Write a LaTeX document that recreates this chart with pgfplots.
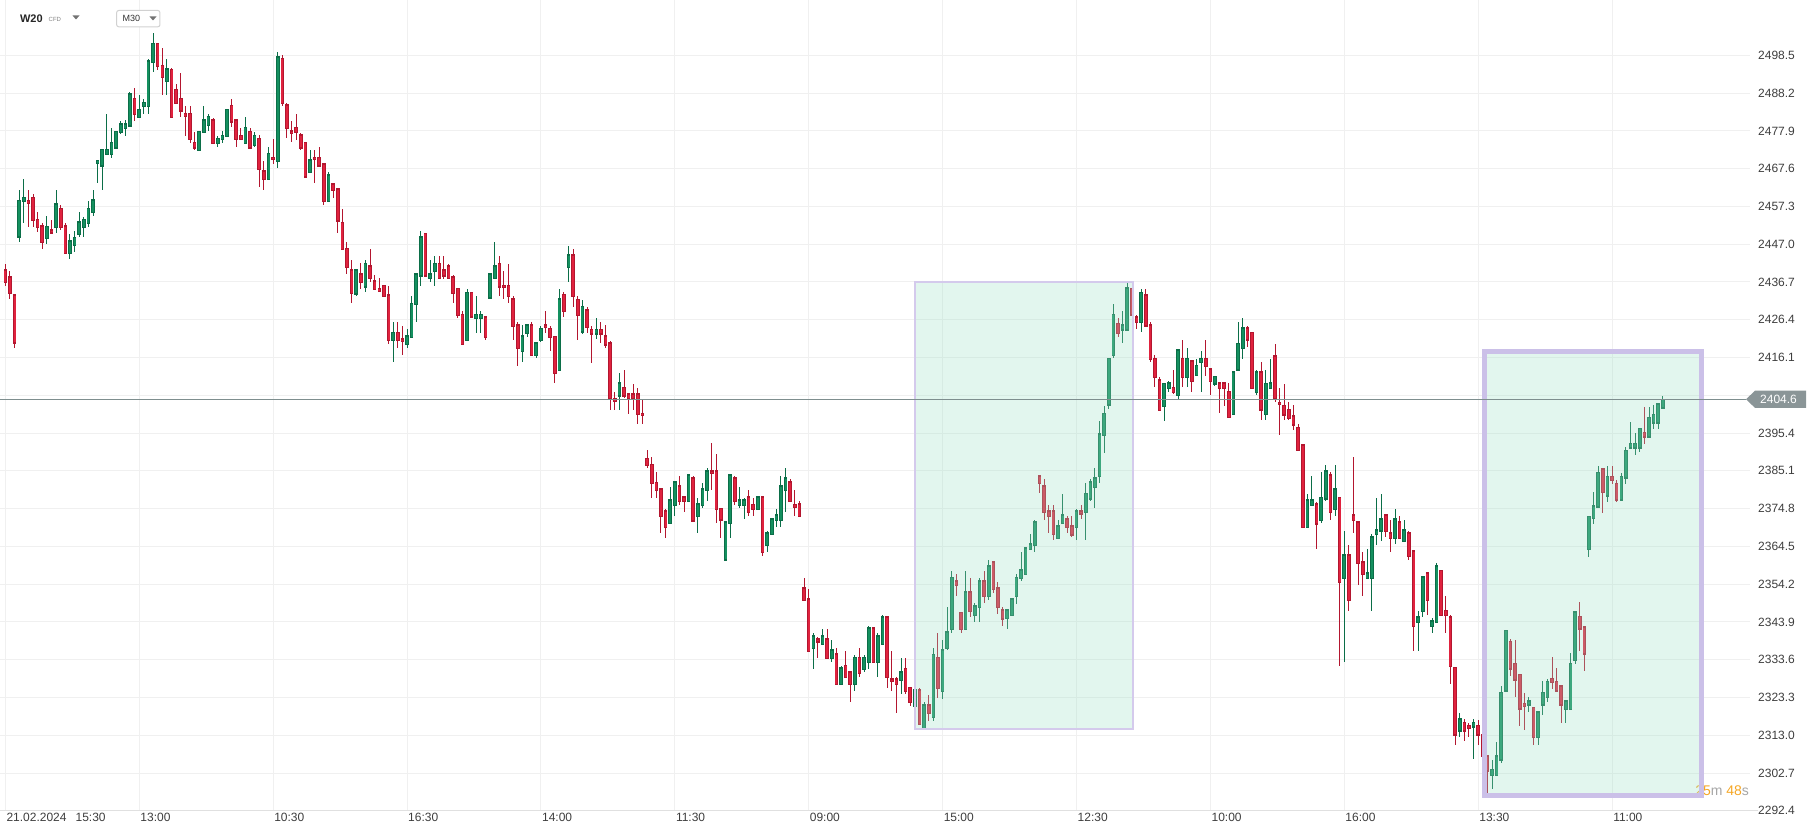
\documentclass[border=0pt]{standalone}
\usepackage{fontspec}
\setmainfont{Liberation Sans}
\usepackage{pgfplots}
\usepackage{pgfplotstable}
\pgfplotsset{compat=1.18}
\definecolor{gfill}{HTML}{14905F}
\definecolor{gline}{HTML}{0B6E48}
\definecolor{rfill}{HTML}{E0223E}
\definecolor{rline}{HTML}{B3162F}
\definecolor{boxfill}{RGB}{158,225,198}
\definecolor{boxa}{RGB}{212,202,236}
\definecolor{boxb}{RGB}{203,192,232}
\definecolor{pline}{HTML}{7E8E8E}
\definecolor{ptag}{HTML}{8A9597}
\definecolor{lbl}{HTML}{3D3D3D}
\definecolor{gridc}{HTML}{F0F0F0}
\definecolor{orng}{HTML}{F5A623}

\pgfplotstableread{
i o h l c
3 2448.9 2461.7 2447.6 2458.9
4 2458.5 2464.7 2452.8 2459.7
9 2448.4 2454.6 2446.9 2451.7
11 2451.5 2461.7 2449.9 2457.9
14 2444.4 2449.7 2442.8 2447.8
15 2446.5 2450.5 2444.7 2448.8
16 2449.6 2455.6 2448.8 2452.9
17 2451.4 2454.4 2448.8 2453.7
18 2452.6 2458.7 2451.5 2456.7
19 2455.5 2461.7 2454.6 2458.9
20 2468.9 2469.8 2463.7 2469.8
21 2468.3 2472.8 2461.7 2472.8
22 2471.3 2482.4 2471.2 2472.8
23 2471.4 2478.7 2470.3 2474.7
24 2473.2 2477.7 2472.8 2477.7
25 2477.4 2480.6 2477.1 2479.7
26 2478.5 2480.8 2476.5 2479.7
27 2479.2 2488.5 2478.9 2487.9
29 2481.5 2487.6 2481.5 2483.7
30 2484.4 2486.5 2482.4 2485.6
31 2484.4 2497.3 2482.4 2496.9
32 2496.5 2504.6 2493.8 2501.7
35 2491.3 2497.3 2487.6 2494.7
42 2472.5 2477.7 2472.5 2477.7
43 2477.4 2484.6 2477.4 2480.8
44 2479.3 2482.4 2477.8 2481.8
46 2474.4 2476.4 2473.5 2475.8
47 2475.4 2477.8 2474.4 2476.6
48 2476.3 2483.7 2476.2 2483.7
52 2474.4 2481.5 2474.4 2478.8
54 2473.8 2477.4 2473.5 2476.6
57 2464.6 2473.3 2464.6 2471.7
59 2469.4 2499.3 2467.6 2498.0
66 2466.4 2472.6 2466.4 2469.9
70 2458.5 2466.5 2458.5 2465.8
76 2433.3 2439.9 2432.9 2439.9
78 2435.3 2442.6 2433.8 2441.7
84 2420.6 2425.6 2414.9 2422.9
87 2419.6 2423.7 2418.7 2421.9
88 2421.5 2432.8 2421.5 2430.8
89 2430.5 2438.8 2425.8 2438.8
90 2438.3 2450.5 2435.6 2448.9
92 2437.5 2442.6 2436.5 2438.8
93 2439.4 2443.8 2435.6 2441.7
100 2420.6 2434.7 2420.6 2433.8
102 2426.6 2432.8 2422.8 2427.8
103 2426.6 2428.7 2422.8 2427.8
105 2432.2 2438.8 2432.2 2438.8
106 2437.6 2447.4 2437.6 2441.0
112 2417.6 2424.9 2414.9 2421.9
113 2422.6 2424.9 2421.7 2424.9
115 2416.5 2419.9 2415.8 2419.9
116 2420.6 2424.6 2420.3 2424.0
120 2412.4 2434.7 2412.2 2431.9
122 2440.6 2446.5 2436.7 2444.0
125 2423.0 2431.7 2422.5 2429.9
128 2422.4 2426.7 2421.0 2423.7
133 2405.5 2411.9 2401.7 2409.1
144 2370.8 2380.8 2370.8 2377.1
145 2375.6 2382.0 2372.9 2382.0
148 2376.7 2384.0 2376.7 2384.0
150 2372.6 2377.8 2368.1 2376.0
151 2375.6 2381.7 2374.9 2380.2
152 2379.7 2385.8 2377.0 2385.1
156 2360.8 2371.1 2360.8 2371.1
157 2370.8 2384.0 2366.9 2384.0
159 2375.6 2380.8 2374.9 2377.1
160 2375.6 2377.8 2371.9 2377.1
163 2374.6 2378.0 2374.6 2378.0
165 2364.7 2368.7 2363.1 2368.1
166 2367.8 2372.0 2367.8 2372.0
167 2371.5 2374.7 2369.9 2373.1
168 2371.5 2383.7 2369.9 2381.0
169 2379.7 2385.8 2374.0 2383.1
175 2336.7 2340.8 2331.0 2340.1
177 2337.8 2342.0 2337.8 2340.1
179 2334.0 2339.0 2333.1 2336.2
181 2326.9 2331.9 2326.9 2331.4
184 2326.9 2334.9 2325.2 2334.2
186 2331.0 2334.9 2330.2 2334.2
187 2332.9 2342.9 2331.0 2342.3
189 2332.9 2340.8 2329.0 2340.1
190 2337.8 2345.8 2337.8 2345.3
194 2327.9 2334.0 2324.2 2330.2
197 2320.8 2325.3 2320.8 2325.3
199 2314.9 2322.0 2314.9 2321.2
201 2317.9 2336.7 2317.0 2335.1
203 2324.9 2339.0 2322.9 2336.2
204 2336.7 2348.1 2336.2 2341.1
205 2341.8 2357.8 2340.9 2356.1
208 2341.8 2357.8 2341.8 2352.1
210 2345.6 2349.0 2343.9 2348.2
211 2347.9 2356.0 2343.9 2355.1
213 2350.8 2360.8 2349.9 2359.1
217 2344.8 2347.2 2342.0 2347.2
218 2345.6 2350.2 2345.6 2350.2
219 2350.8 2357.0 2348.8 2356.1
220 2355.7 2363.1 2355.0 2358.1
221 2356.8 2364.1 2356.8 2364.1
222 2363.7 2367.9 2363.7 2365.2
223 2364.7 2371.7 2363.1 2371.2
228 2366.7 2371.7 2366.7 2370.1
229 2370.8 2378.8 2370.8 2373.1
232 2369.6 2374.7 2366.2 2374.2
234 2373.7 2381.7 2366.2 2379.0
235 2377.4 2382.9 2377.0 2382.0
236 2380.5 2385.8 2374.9 2383.1
237 2383.5 2398.7 2381.9 2395.1
238 2394.7 2402.8 2389.9 2400.8
239 2403.0 2415.8 2402.1 2415.8
240 2416.5 2430.6 2415.8 2427.8
242 2423.5 2428.7 2419.9 2424.9
243 2423.5 2436.2 2423.5 2434.9
246 2425.6 2434.7 2422.9 2433.8
251 2402.6 2409.0 2398.8 2409.0
252 2407.6 2409.7 2406.7 2409.0
254 2405.6 2418.1 2404.7 2418.1
256 2410.6 2418.5 2407.9 2415.8
258 2411.1 2415.5 2411.1 2413.8
259 2414.6 2417.8 2406.7 2415.8
262 2408.8 2410.8 2408.2 2410.8
266 2400.5 2412.0 2400.5 2412.0
267 2412.6 2425.8 2412.6 2419.9
268 2418.5 2426.7 2415.6 2424.0
271 2406.4 2412.6 2405.8 2412.0
273 2400.5 2412.6 2399.0 2409.0
274 2407.6 2415.5 2407.6 2409.0
282 2369.6 2378.8 2369.6 2377.1
283 2375.6 2383.7 2375.6 2377.1
285 2371.5 2384.7 2371.0 2377.9
286 2377.4 2386.7 2377.0 2385.1
288 2374.6 2386.7 2372.9 2380.2
290 2355.8 2368.7 2333.1 2362.2
295 2355.8 2363.8 2355.8 2357.2
296 2355.8 2367.8 2347.0 2367.1
297 2367.8 2377.8 2364.9 2369.0
298 2368.7 2378.8 2366.1 2372.0
301 2366.7 2374.7 2365.1 2372.0
303 2365.8 2371.7 2365.8 2369.0
306 2343.7 2347.0 2336.1 2345.2
307 2346.7 2356.1 2345.2 2356.1
309 2342.6 2344.9 2341.0 2344.2
310 2343.7 2359.9 2343.7 2359.2
315 2314.2 2319.2 2312.4 2317.4
318 2315.3 2317.4 2306.4 2316.5
322 2302.1 2306.3 2298.4 2303.7
323 2302.1 2311.3 2302.1 2307.3
324 2306.2 2326.3 2305.3 2324.7
325 2325.1 2341.6 2325.1 2341.6
330 2321.2 2323.3 2319.4 2322.4
332 2312.4 2319.4 2310.4 2319.4
333 2321.2 2327.9 2318.6 2324.7
334 2323.3 2328.3 2322.0 2327.7
338 2320.1 2322.4 2316.3 2322.4
339 2320.1 2335.4 2320.1 2332.6
340 2333.4 2346.6 2332.4 2346.6
343 2363.6 2372.6 2361.5 2372.6
344 2372.1 2379.4 2370.5 2375.5
345 2375.2 2386.3 2375.2 2384.7
347 2378.3 2386.3 2376.7 2383.5
350 2377.2 2384.4 2377.2 2383.5
351 2383.1 2391.6 2381.4 2390.7
352 2391.3 2398.3 2391.3 2392.5
353 2391.3 2395.4 2389.5 2392.5
354 2391.3 2396.6 2390.2 2396.6
356 2394.3 2402.4 2394.3 2399.7
357 2398.1 2403.2 2396.5 2400.4
358 2398.1 2403.4 2396.5 2403.4
359 2402.2 2405.4 2402.2 2404.6
}\up

\pgfplotstableread{
i o h l c
0 2439.9 2441.4 2435.6 2436.5
1 2437.9 2439.6 2431.9 2433.5
2 2433.0 2433.3 2418.7 2420.0
5 2458.9 2461.7 2451.7 2458.2
6 2459.7 2460.6 2451.7 2453.3
7 2453.7 2455.6 2450.3 2451.5
8 2451.9 2452.6 2445.6 2447.3
10 2450.8 2453.5 2449.9 2450.0
12 2456.7 2457.6 2450.8 2451.5
13 2451.9 2452.6 2444.4 2444.4
28 2486.7 2489.5 2480.6 2482.3
33 2501.7 2501.7 2494.4 2495.3
34 2495.7 2500.4 2487.6 2492.4
36 2494.6 2495.0 2481.5 2481.5
37 2489.1 2490.6 2485.3 2485.3
38 2486.7 2493.7 2481.7 2483.3
39 2482.6 2484.6 2476.5 2481.9
40 2482.6 2484.6 2474.6 2475.4
41 2474.7 2477.4 2472.6 2473.2
45 2480.8 2481.2 2474.4 2474.4
49 2484.8 2486.5 2478.8 2480.3
50 2480.8 2480.8 2473.5 2475.5
51 2476.6 2478.5 2475.5 2475.5
53 2477.7 2478.6 2472.8 2473.2
55 2475.8 2476.6 2462.6 2467.3
56 2466.9 2469.6 2461.7 2464.6
58 2470.6 2475.5 2468.8 2470.1
60 2497.5 2498.5 2484.5 2485.3
61 2484.9 2485.3 2475.8 2478.5
62 2477.8 2480.5 2474.7 2477.1
63 2478.8 2482.4 2475.3 2477.4
64 2476.7 2477.3 2472.6 2473.2
65 2474.7 2474.7 2465.3 2465.3
67 2470.6 2472.6 2463.7 2470.1
68 2470.6 2473.3 2468.3 2468.3
69 2468.8 2468.8 2457.6 2458.5
71 2463.3 2463.5 2459.6 2461.5
72 2462.0 2462.3 2449.9 2453.3
73 2452.9 2456.5 2445.5 2445.5
74 2445.8 2447.4 2438.7 2440.6
75 2439.9 2442.6 2430.8 2433.5
77 2438.8 2441.7 2434.7 2436.5
79 2441.0 2445.6 2436.5 2437.6
80 2436.9 2438.4 2434.4 2434.6
81 2434.9 2437.6 2433.8 2434.2
82 2435.7 2435.7 2432.6 2432.6
83 2433.1 2435.5 2419.7 2420.6
85 2422.9 2425.6 2418.7 2420.6
86 2421.1 2424.6 2416.7 2420.3
91 2449.9 2449.9 2438.3 2438.3
94 2441.7 2443.8 2437.5 2437.5
95 2439.9 2443.8 2437.4 2438.3
96 2440.9 2441.5 2437.5 2437.5
97 2437.9 2438.4 2430.8 2433.5
98 2434.9 2434.9 2426.9 2427.4
99 2427.8 2428.7 2419.6 2419.6
101 2433.8 2433.8 2426.9 2427.1
104 2427.0 2427.0 2420.8 2421.5
107 2441.7 2443.8 2432.9 2435.3
108 2435.7 2439.6 2431.9 2435.1
109 2435.7 2441.5 2430.8 2432.6
110 2431.9 2432.8 2420.8 2424.4
111 2424.9 2425.6 2413.8 2418.5
114 2424.9 2425.6 2416.5 2416.5
117 2424.9 2428.7 2422.8 2424.2
118 2424.0 2424.6 2417.9 2421.5
119 2421.8 2422.0 2409.0 2411.7
121 2433.2 2433.9 2427.0 2428.5
123 2444.0 2445.5 2429.9 2432.6
124 2431.9 2432.8 2420.8 2427.4
126 2429.0 2429.9 2422.7 2424.2
127 2423.7 2424.5 2414.6 2422.4
129 2423.7 2425.6 2419.9 2422.4
130 2421.9 2425.0 2418.7 2419.4
131 2419.9 2420.5 2401.7 2404.7
132 2404.9 2406.7 2401.7 2404.2
134 2407.9 2412.6 2404.9 2405.5
135 2406.0 2406.0 2400.6 2404.7
136 2406.1 2408.8 2401.7 2404.7
137 2406.1 2407.6 2397.9 2400.5
138 2400.8 2404.6 2397.9 2400.2
139 2388.5 2390.8 2386.0 2386.5
140 2386.9 2388.8 2377.8 2381.7
141 2382.0 2384.8 2377.8 2379.7
142 2380.2 2380.2 2368.1 2372.6
143 2374.1 2374.7 2366.9 2369.6
146 2381.0 2383.7 2375.8 2376.7
147 2378.0 2378.0 2374.0 2376.7
149 2383.2 2383.7 2371.1 2371.4
153 2385.1 2392.8 2379.9 2384.4
154 2385.1 2389.7 2371.0 2374.6
155 2374.9 2374.9 2366.9 2371.7
158 2383.1 2383.7 2375.8 2376.7
161 2378.0 2379.9 2372.9 2373.8
162 2376.0 2377.8 2372.9 2374.6
164 2378.0 2378.0 2362.0 2362.8
170 2382.0 2382.9 2376.7 2376.7
171 2376.0 2379.9 2372.9 2375.3
172 2376.0 2376.9 2372.6 2372.6
173 2353.2 2356.0 2349.7 2349.7
174 2350.2 2352.9 2335.8 2335.8
176 2339.2 2339.7 2334.2 2338.5
178 2339.2 2342.0 2334.0 2334.0
180 2335.1 2336.7 2326.9 2326.9
182 2332.1 2336.0 2328.8 2328.8
183 2330.2 2330.2 2322.2 2326.9
185 2334.2 2336.7 2329.0 2329.9
188 2342.2 2342.2 2332.9 2332.9
191 2345.3 2345.3 2325.8 2328.8
192 2328.3 2336.0 2325.2 2327.6
193 2328.3 2329.0 2319.2 2326.9
195 2331.2 2334.0 2324.2 2324.9
196 2326.1 2326.1 2321.1 2322.0
198 2325.3 2325.8 2316.0 2316.0
200 2321.2 2324.0 2317.0 2319.0
202 2334.2 2340.8 2323.1 2325.7
206 2355.1 2357.0 2351.1 2353.8
207 2346.5 2346.5 2340.9 2341.8
209 2352.1 2356.0 2345.2 2346.7
212 2355.1 2357.8 2349.0 2350.8
214 2360.2 2360.2 2351.9 2352.8
215 2353.2 2354.7 2346.0 2347.9
216 2347.2 2348.1 2342.9 2344.7
224 2383.7 2383.7 2379.0 2381.7
225 2381.0 2382.8 2371.7 2373.7
226 2374.2 2375.8 2368.1 2372.6
227 2374.2 2375.8 2366.2 2367.8
230 2372.0 2372.8 2368.1 2369.7
231 2370.1 2372.8 2367.0 2367.6
233 2374.2 2375.8 2371.9 2373.3
241 2425.3 2426.7 2421.7 2422.6
244 2434.9 2434.9 2427.6 2427.6
245 2427.0 2427.6 2423.8 2425.6
247 2433.1 2434.7 2424.6 2424.6
248 2424.9 2425.8 2414.9 2415.5
249 2415.8 2416.7 2407.9 2410.6
250 2409.9 2410.8 2401.5 2401.5
253 2407.9 2412.6 2406.1 2406.4
255 2415.8 2420.8 2407.9 2410.6
257 2415.1 2415.1 2406.7 2409.4
260 2415.8 2420.8 2411.0 2413.5
261 2412.9 2412.9 2405.8 2409.4
263 2409.0 2409.4 2400.8 2407.6
264 2409.0 2409.0 2402.9 2407.6
265 2406.7 2409.0 2399.7 2399.7
269 2424.0 2424.6 2418.8 2420.8
270 2422.9 2422.9 2407.6 2407.6
272 2412.0 2414.9 2399.0 2401.7
275 2416.4 2419.7 2404.0 2404.9
276 2403.8 2407.6 2394.9 2403.2
277 2403.0 2408.7 2399.0 2400.3
278 2401.9 2404.0 2399.0 2399.4
279 2400.1 2403.0 2396.2 2397.6
280 2396.9 2397.9 2390.6 2390.6
281 2392.1 2392.1 2369.6 2369.6
284 2376.1 2376.7 2363.8 2370.6
287 2384.0 2384.9 2371.7 2373.7
289 2377.9 2377.9 2332.0 2354.6
291 2362.2 2364.9 2347.0 2349.7
292 2373.1 2388.8 2368.1 2371.5
293 2371.1 2371.1 2354.0 2359.9
294 2360.2 2362.9 2351.1 2356.9
299 2373.1 2373.1 2367.0 2368.5
300 2368.1 2371.7 2363.1 2366.7
302 2371.1 2372.8 2366.7 2366.7
304 2368.1 2368.7 2360.8 2361.7
305 2363.2 2363.2 2336.1 2342.6
308 2357.2 2357.2 2345.8 2349.7
311 2358.0 2358.0 2345.6 2345.6
312 2347.1 2351.0 2341.0 2345.6
313 2345.2 2345.8 2327.0 2331.7
314 2331.5 2331.5 2310.4 2313.1
316 2316.5 2317.4 2311.5 2314.2
317 2315.7 2316.3 2312.4 2314.9
319 2315.7 2317.2 2310.4 2313.1
320 2313.1 2314.0 2306.0 2307.3
321 2307.3 2307.3 2296.4 2303.2
326 2338.6 2339.3 2329.2 2331.1
327 2332.6 2339.1 2323.5 2328.1
328 2329.5 2329.5 2315.6 2320.1
329 2321.7 2324.4 2314.5 2320.8
331 2320.6 2320.6 2310.4 2312.4
335 2328.5 2334.3 2325.6 2327.4
336 2327.6 2331.3 2325.1 2325.1
337 2326.5 2326.5 2316.3 2321.2
341 2345.4 2349.3 2336.1 2342.0
342 2342.5 2342.5 2330.6 2335.2
346 2385.6 2385.6 2373.5 2379.2
348 2383.5 2386.3 2381.4 2382.4
349 2381.7 2382.6 2376.5 2377.2
355 2395.6 2402.4 2392.4 2394.3
}\down

\pgfplotsset{
  wick/.style={draw=none, mark=none, forget plot,
    error bars/.cd, y dir=both, y explicit, error mark=none,
    error bar style={line width=1pt, draw=#1}},
  body/.style 2 args={draw=none, mark=none, forget plot,
    error bars/.cd, y dir=both, y explicit, error mark=none,
    error bar style={line width=#2, draw=#1}},
}

\begin{document}
\begin{tikzpicture}
\path[use as bounding box] (0pt,0pt) rectangle (1818pt,834pt);
\begin{axis}[
  at={(0pt,23.2pt)}, anchor=south west,
  scale only axis, width=1750pt, height=810.8pt,
  xmin=-1.1544, xmax=377.88, ymin=2292.4, ymax=2513.5,
  axis line style={draw=none},
  major tick length=0pt,
  xtick={0,29,58,87,116,145,174,203,232,261,290,319,348},
  xticklabels={{21.02.2024\hspace{9pt}15:30},13:00,10:30,16:30,14:00,11:30,09:00,15:00,12:30,10:00,16:00,13:30,11:00},
  ytick={2292.4,2302.7,2313.0,2323.3,2333.6,2343.9,2354.2,2364.5,2374.8,2385.1,2395.4,2405.7,2416.0,2426.3,2436.6,2446.9,2457.2,2467.5,2477.8,2488.1,2498.4},
  yticklabels={2292.4,2302.7,2313.0,2323.3,2333.6,2343.9,2354.2,2364.5,2374.8,2385.1,2395.4,{},2416.1,2426.4,2436.7,2447.0,2457.3,2467.6,2477.9,2488.2,2498.5},
  yticklabel pos=right,
  grid=major,
  major grid style={draw=gridc, line width=1pt},
  xticklabel style={anchor=north west, inner sep=0pt, xshift=1pt, yshift=-2pt, font=\fontsize{12}{14}\selectfont, text=lbl},
  yticklabel style={anchor=west, inner sep=0pt, xshift=8pt, font=\fontsize{12}{14}\selectfont, text=lbl},
]
% wicks
\addplot[wick=gline] table[x=i, y expr={(\thisrow{h}+\thisrow{l})/2}, y error expr={(\thisrow{h}-\thisrow{l})/2}] {\up};
\addplot[wick=rline] table[x=i, y expr={(\thisrow{h}+\thisrow{l})/2}, y error expr={(\thisrow{h}-\thisrow{l})/2}] {\down};
% body outlines
\addplot[body={gline}{3.6pt}] table[x=i, y expr={(\thisrow{o}+\thisrow{c})/2}, y error expr={abs(\thisrow{c}-\thisrow{o})/2+0.2}] {\up};
\addplot[body={rline}{3.6pt}] table[x=i, y expr={(\thisrow{o}+\thisrow{c})/2}, y error expr={abs(\thisrow{c}-\thisrow{o})/2+0.2}] {\down};
% body fills
\addplot[body={gfill}{2.0pt}] table[x=i, y expr={(\thisrow{o}+\thisrow{c})/2}, y error expr={max(abs(\thisrow{c}-\thisrow{o})/2-0.2,0)}] {\up};
\addplot[body={rfill}{2.0pt}] table[x=i, y expr={(\thisrow{o}+\thisrow{c})/2}, y error expr={max(abs(\thisrow{c}-\thisrow{o})/2-0.2,0)}] {\down};
% countdown
\node[anchor=east, inner sep=0pt, font=\fontsize{14}{16}\selectfont] at (axis cs:377.7,2297.8) {\textcolor{orng}{25}\textcolor{black!35}{m} \textcolor{orng}{48}\textcolor{black!35}{s}};
% highlight boxes
\addplot[forget plot, draw=boxa, line width=2pt, fill=boxfill, fill opacity=0.3, draw opacity=1] coordinates {(197.09,2436.5) (244.17,2436.5) (244.17,2314.7) (197.09,2314.7)} -- cycle;
\addplot[forget plot, draw=boxb, line width=4.7pt, fill=boxfill, fill opacity=0.3, draw opacity=1] coordinates {(320.33,2417.7) (367.42,2417.7) (367.42,2296.5) (320.33,2296.5)} -- cycle;
\end{axis}
% bottom axis line
\draw[black!12, line width=1pt] (0pt,23.2pt) -- (1758pt,23.2pt);
% current price line and tag
\draw[pline, line width=1pt] (0pt,434.7pt) -- (1746pt,434.7pt);
\fill[ptag] (1746pt,434.7pt) -- (1755pt,443.3pt) -- (1806pt,443.3pt) -- (1806pt,426.1pt) -- (1755pt,426.1pt) -- cycle;
\node[text=white, inner sep=0pt, font=\fontsize{12}{14}\selectfont] at (1778.5pt,434.7pt) {2404.6};
% header
\node[anchor=west, inner sep=0pt, font=\bfseries\fontsize{11}{13}\selectfont, text=black!85] at (19.8pt,815.3pt) {W20};
\node[anchor=west, inner sep=0pt, font=\fontsize{6}{7}\selectfont, text=black!50] at (48.5pt,814.8pt) {CFD};
\fill[black!55] (72.5pt,818.5pt) -- (79.5pt,818.5pt) -- (76pt,814.5pt) -- cycle;
\draw[black!18, line width=1pt, fill=white, rounded corners=2pt] (116.7pt,807.2pt) rectangle (159.9pt,823.5pt);
\node[anchor=west, inner sep=0pt, font=\fontsize{9}{11}\selectfont, text=black!80] at (122.5pt,815.3pt) {M30};
\fill[black!55] (149.5pt,817.5pt) -- (156.5pt,817.5pt) -- (153pt,813.5pt) -- cycle;
\end{tikzpicture}
\end{document}
